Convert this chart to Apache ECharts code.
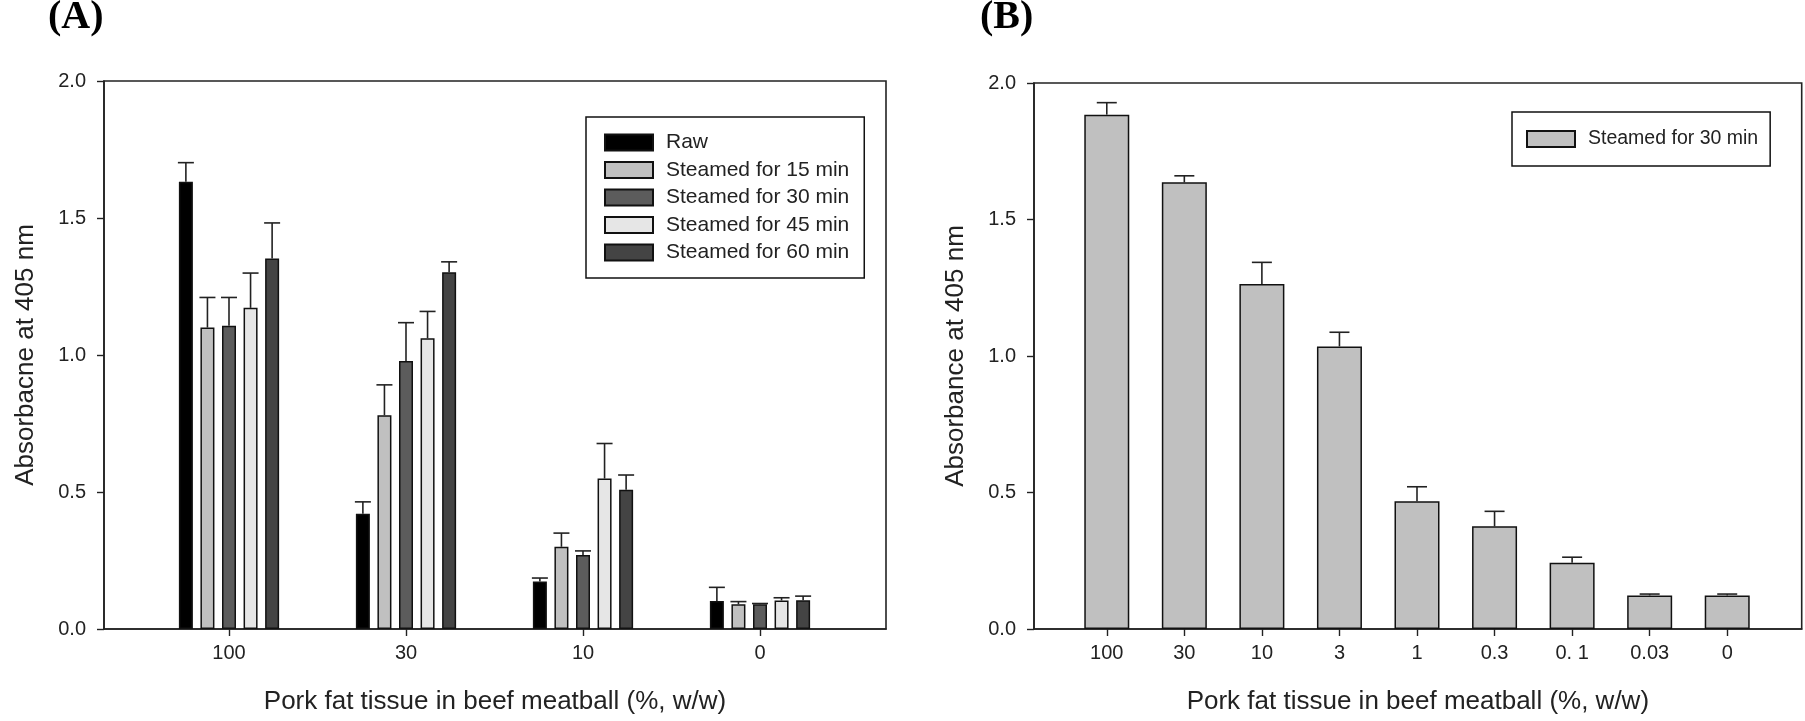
<!DOCTYPE html>
<html>
<head>
<meta charset="utf-8">
<script src="https://cdn.jsdelivr.net/npm/echarts@6/dist/echarts.min.js"></script>
<style>html,body{margin:0;padding:0;background:#fff}#c{width:1805px;height:721px}</style>
</head>
<body>
<div id="c"></div>
<script>
// ---------- Data ----------
const catsA = ['100', '30', '10', '0'];
const seriesNamesA = ['Raw', 'Steamed for 15 min', 'Steamed for 30 min', 'Steamed for 45 min', 'Steamed for 60 min'];
const rawMean  = [1.632, 0.421, 0.173, 0.102];
const rawErr   = [0.070, 0.043, 0.013, 0.050];
const s15Mean  = [1.100, 0.780, 0.300, 0.090];
const s15Err   = [0.110, 0.111, 0.050, 0.010];
const s30Mean  = [1.107, 0.978, 0.270, 0.090];
const s30Err   = [0.103, 0.140, 0.015, 0.003];
const s45Mean  = [1.172, 1.061, 0.549, 0.104];
const s45Err   = [0.127, 0.098, 0.128, 0.010];
const s60Mean  = [1.352, 1.302, 0.508, 0.105];
const s60Err   = [0.130, 0.038, 0.054, 0.015];

const catsB = ['100', '30', '10', '3', '1', '0.3', '0. 1', '0.03', '0'];
const seriesNameB = 'Steamed for 30 min';
const bMean = [1.884, 1.636, 1.264, 1.035, 0.468, 0.376, 0.243, 0.123, 0.123];
const bErr  = [0.044, 0.024, 0.079, 0.052, 0.053, 0.055, 0.020, 0.005, 0.005];

const yTicks = ['0.0', '0.5', '1.0', '1.5', '2.0'];

// ---------- Styles ----------
const FONT = 'Liberation Sans';
const TXT = '#222';
const AX = '#222';
const colorsA = ['#000000', '#c0c0c0', '#5c5c5c', '#e6e6e6', '#444444'];
const barWA = 14, gapA = 0.54;
const pitchA = barWA * (1 + gapA);
const barWB = 45;

const meansA = [rawMean, s15Mean, s30Mean, s45Mean, s60Mean];
const errsA = [rawErr, s15Err, s30Err, s45Err, s60Err];

function errRender(offsetFn, half) {
  return function (params, api) {
    const c = api.value(0);
    const m = api.value(1), e = api.value(2), s = api.value(3);
    const x = api.coord([c, 0])[0] + offsetFn(s);
    const y0 = api.coord([c, m])[1];
    const y1 = api.coord([c, m + e])[1];
    const st = { stroke: AX, lineWidth: 1.6 };
    return {
      type: 'group',
      children: [
        { type: 'line', shape: { x1: x, y1: y0, x2: x, y2: y1 }, style: st },
        { type: 'line', shape: { x1: x - half, y1: y1, x2: x + half, y2: y1 }, style: st }
      ]
    };
  };
}

const yLabelFmt = v => yTicks[Math.round(v / 0.5)];

function frameY(name) {
  return {
    type: 'value', min: 0, max: 2, interval: 0.5,
    axisLine: { show: true, lineStyle: { color: AX, width: 1.6 } },
    axisTick: { show: true, inside: false, length: 7, lineStyle: { color: AX, width: 1.4 } },
    axisLabel: { formatter: yLabelFmt, fontSize: 20, fontFamily: FONT, color: TXT, margin: 18 },
    splitLine: { show: false },
    name: name, nameLocation: 'middle', nameGap: 65,
    nameTextStyle: { fontSize: 26, fontFamily: FONT, color: TXT }
  };
}
function frameX(name) {
  return {
    type: 'value', min: 0, max: 1,
    axisLine: { show: true, lineStyle: { color: AX, width: 1.6 } },
    axisTick: { show: false }, axisLabel: { show: false }, splitLine: { show: false },
    name: name, nameLocation: 'middle', nameGap: 60,
    nameTextStyle: { fontSize: 26, fontFamily: FONT, color: TXT }
  };
}
function catX(cats, grid) {
  return {
    type: 'category', data: cats, gridIndex: grid,
    axisLine: { show: false },
    axisTick: { show: true, alignWithLabel: true, inside: false, length: 7, lineStyle: { color: AX, width: 1.4 } },
    axisLabel: { fontSize: 20, fontFamily: FONT, color: TXT, margin: 14 },
    splitLine: { show: false }
  };
}
function hiddenY(grid) {
  return { type: 'value', min: 0, max: 2, gridIndex: grid, show: false, splitLine: { show: false } };
}

const series = [];
seriesNamesA.forEach((nm, i) => {
  series.push({
    name: nm, type: 'bar', xAxisIndex: 2, yAxisIndex: 2,
    barWidth: barWA, barGap: (gapA * 100) + '%',
    data: meansA[i],
    itemStyle: { color: colorsA[i], borderColor: '#111', borderWidth: 1.5 },
    z: 2
  });
});
const errDataA = [];
meansA.forEach((arr, s) => arr.forEach((m, c) => errDataA.push([c, m, errsA[s][c], s])));
series.push({
  type: 'custom', xAxisIndex: 2, yAxisIndex: 2, z: 5,
  renderItem: errRender(s => (s - 2) * pitchA, 8),
  data: errDataA, silent: true
});
series.push({
  name: seriesNameB + ' (B)', type: 'bar', xAxisIndex: 3, yAxisIndex: 3,
  barWidth: barWB, data: bMean,
  itemStyle: { color: '#c0c0c0', borderColor: '#111', borderWidth: 1.5 }, z: 2
});
series.push({
  type: 'custom', xAxisIndex: 3, yAxisIndex: 3, z: 5,
  renderItem: errRender(() => 0, 10),
  data: bMean.map((m, c) => [c, m, bErr[c], 0]), silent: true
});

const chart = echarts.init(document.getElementById('c'), null, { renderer: 'canvas' });
chart.setOption({
  animation: false,
  backgroundColor: '#fff',
  title: [
    { text: '(A)', left: 48, top: -2, padding: 0, textStyle: { fontFamily: 'Liberation Serif', fontWeight: 'bold', fontSize: 40, color: '#000' } },
    { text: '(B)', left: 980, top: -2, padding: 0, textStyle: { fontFamily: 'Liberation Serif', fontWeight: 'bold', fontSize: 40, color: '#000' } }
  ],
  grid: [
    { left: 104, right: 919, top: 81, bottom: 92, show: true, borderColor: AX, borderWidth: 1.6, backgroundColor: 'transparent' },
    { left: 140.5, right: 956.5, top: 81, bottom: 92 },
    { left: 1034, right: 3.3, top: 83, bottom: 92, show: true, borderColor: AX, borderWidth: 1.6, backgroundColor: 'transparent' },
    { left: 1068, right: 39, top: 83, bottom: 92 }
  ],
  xAxis: [
    Object.assign(frameX('Pork fat tissue in beef meatball (%, w/w)'), { gridIndex: 0 }),
    Object.assign(frameX('Pork fat tissue in beef meatball (%, w/w)'), { gridIndex: 2 }),
    catX(catsA, 1),
    catX(catsB, 3)
  ],
  yAxis: [
    Object.assign(frameY('Absorbacne at 405 nm'), { gridIndex: 0 }),
    Object.assign(frameY('Absorbance at 405 nm'), { gridIndex: 2 }),
    hiddenY(1),
    hiddenY(3)
  ],
  legend: [
    {
      data: seriesNamesA, orient: 'vertical', left: 586, top: 117,
      icon: 'rect',
      itemWidth: 48, itemHeight: 16, itemGap: 6.5,
      padding: [15, 15, 15, 18],
      borderColor: '#111', borderWidth: 1.5, backgroundColor: '#fff',
      selectedMode: false,
      textStyle: { fontSize: 21, fontFamily: FONT, color: TXT, padding: [0, 0, 0, 8] }
    },
    {
      data: [seriesNameB + ' (B)'], orient: 'vertical', left: 1512, top: 112,
      icon: 'rect',
      itemWidth: 48, itemHeight: 16,
      padding: [17, 12, 17, 14],
      borderColor: '#111', borderWidth: 1.5, backgroundColor: '#fff',
      selectedMode: false,
      formatter: () => seriesNameB,
      textStyle: { fontSize: 19.5, fontFamily: FONT, color: TXT, padding: [0, 0, 0, 8] }
    }
  ],
  series: series
});
</script>
</body>
</html>
